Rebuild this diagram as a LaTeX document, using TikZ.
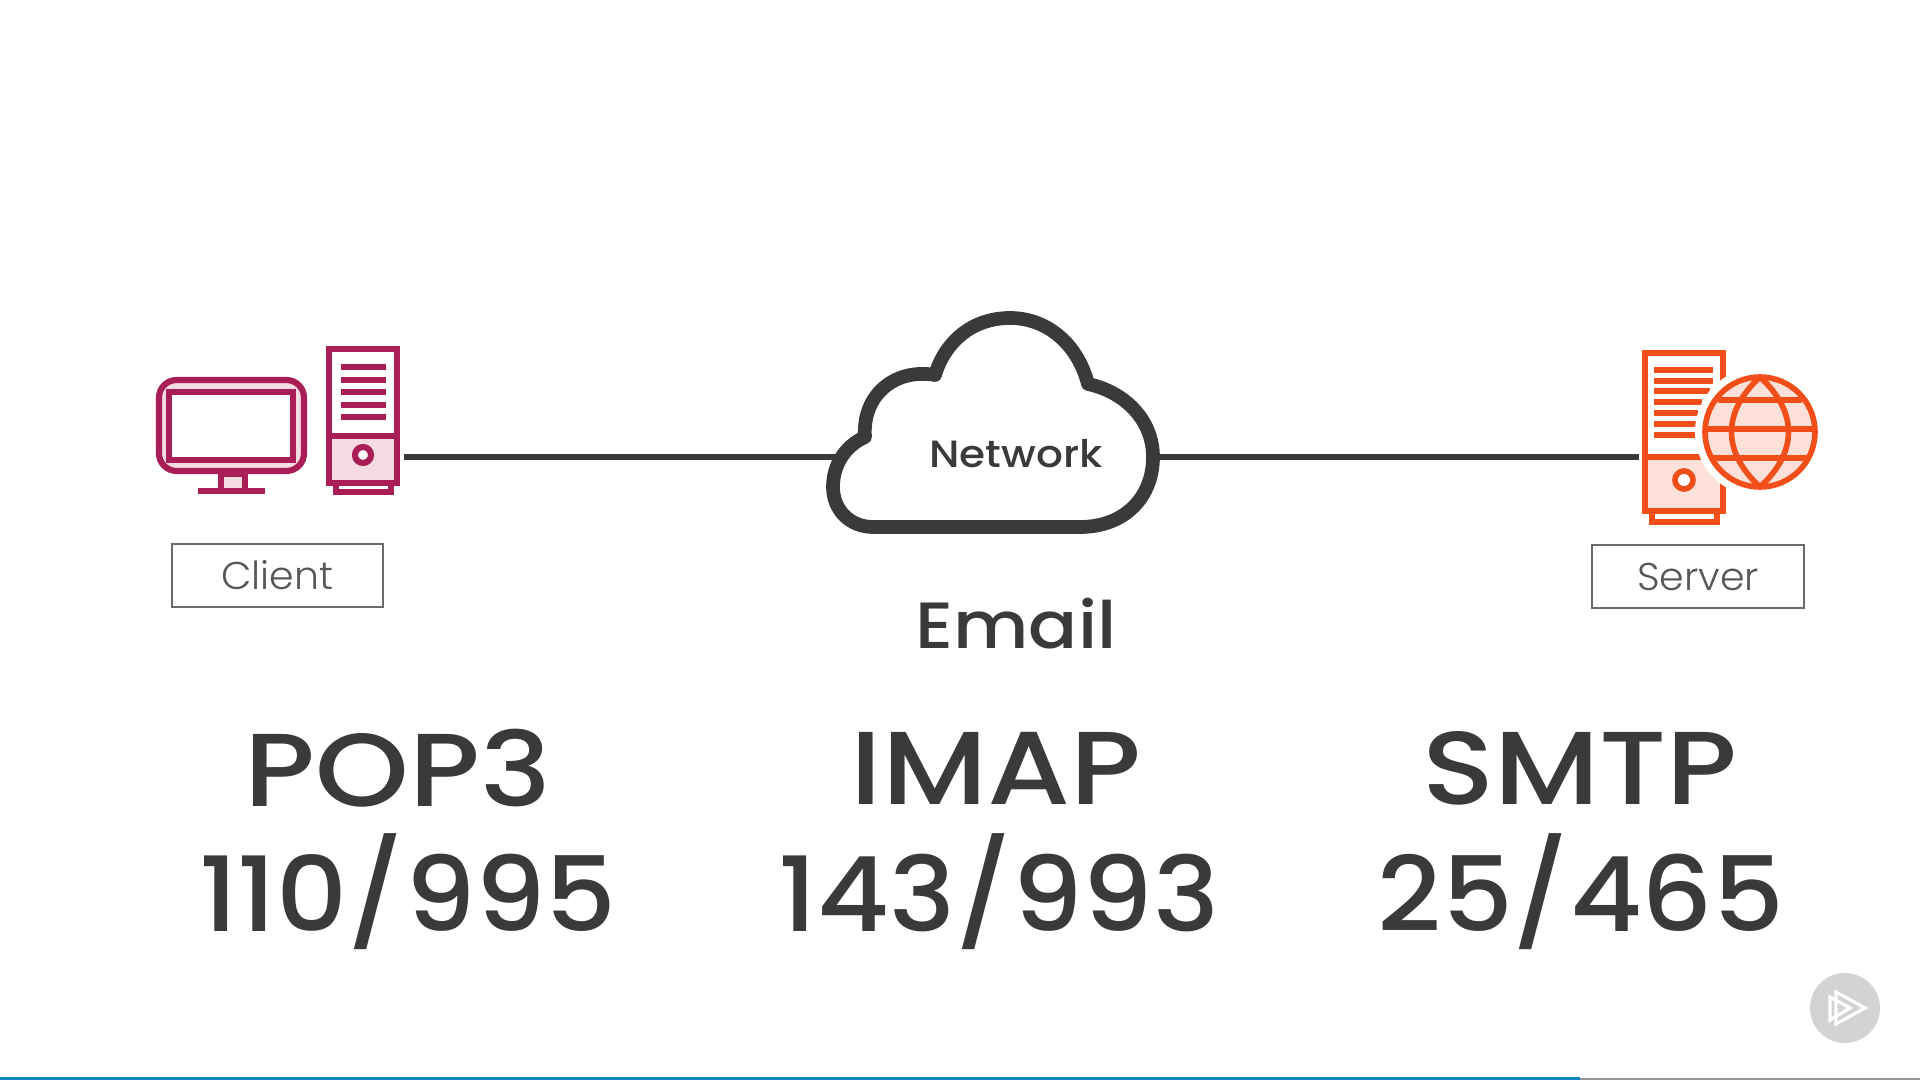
\documentclass[tikz,border=0pt]{standalone}
\usepackage{fontspec}
\setmainfont{Poppins}
\newfontfamily\protofont[FakeStretch=1.11]{Poppins Medium}
\newfontfamily\namefont[FakeStretch=1.15]{Poppins Medium}
\newfontfamily\portfont[FakeStretch=1.07]{Poppins Medium}
\newfontfamily\tagfont[FakeStretch=1.02]{Poppins Light}
\usepackage{xcolor}
\usetikzlibrary{positioning}
\definecolor{inkgray}{HTML}{3A3A3D}
\definecolor{boxgray}{HTML}{6B6B6E}
\definecolor{berry}{HTML}{A91E56}
\definecolor{berrylight}{HTML}{F6DAE4}
\definecolor{flame}{HTML}{F24E1A}
\definecolor{flamelight}{HTML}{FDE0D8}
\definecolor{badge}{HTML}{D3D3D5}
\definecolor{barblue}{HTML}{0A84C1}
\begin{document}
\begin{tikzpicture}[
  x=0.01cm, y=-0.01cm,
  tag/.style={draw=boxgray, line width=0.55pt, minimum width=0.6cm*3.52, minimum height=0.63cm, inner sep=0pt, font=\tagfont\fontsize{11}{13}\selectfont, text=inkgray!85},
  proto/.style={font=\namefont\fontsize{29.5}{34}\selectfont, text=inkgray, inner sep=0pt},
  portnum/.style={font=\portfont\fontsize{29.5}{34}\selectfont, text=inkgray, inner sep=0pt},
  wire/.style={draw=inkgray, line width=1.6pt},
  pcline/.style={draw=berry, line width=1.75pt},
  srvline/.style={draw=flame, line width=1.6pt}
]
\useasboundingbox (0,0) rectangle (1920,1080);

\draw[pcline, fill=berrylight, rounded corners=5pt] (159,380) rectangle (304,471);
\draw[pcline, fill=white] (169,392) rectangle (293,460);
\draw[pcline, fill=berrylight] (221,474) rectangle (245,491);
\draw[pcline, line width=1.9pt] (198,491) -- (265,491);
\draw[pcline, fill=berrylight] (329,436) rectangle (397,483);
\draw[pcline] (329,349) rectangle (397,483);
\draw[pcline] (329,436) -- (397,436);
\foreach \ly in {367,380,392,405,417}
  \draw[pcline] (341,\ly) -- (386,\ly);
\draw[pcline, fill=white] (363,455) circle (8);
\draw[pcline] (336,483) rectangle (391,492);

\draw[srvline, fill=flamelight] (1645,457) rectangle (1723,511);
\draw[srvline] (1645,457) -- (1645,353) -- (1723,353) -- (1723,457);
\foreach \ly/\lx in {370/1713,381/1713,391/1710,402/1702,413/1698,424/1696,435/1696}
  \draw[srvline] (1654,\ly) -- (\lx,\ly);
\draw[srvline] (1645,457) -- (1700,457);
\draw[srvline, fill=white] (1684,480) circle (9);
\draw[srvline] (1652,511) rectangle (1717,522);
\fill[white] (1760,432) circle (65);
\draw[srvline, fill=flamelight] (1760,432) circle (55);
\draw[srvline] (1760,377) .. controls (1722,412) and (1722,452) .. (1760,487);
\draw[srvline] (1760,377) .. controls (1798,412) and (1798,452) .. (1760,487);
\draw[srvline] (1718,400) -- (1802,400);
\draw[srvline] (1705,429) -- (1815,429);
\draw[srvline] (1711,458) -- (1809,458);

\coordinate (clientport) at (404,457);
\coordinate (cloudleft) at (835,457);
\coordinate (cloudright) at (1158,457);
\coordinate (serverport) at (1639,457);
\draw[wire] (clientport) -- (cloudleft);
\draw[wire] (cloudright) -- (serverport);

\draw[draw=inkgray, line width=3.9pt, fill=white, line join=round]
  (873,527) -- (1080,527)
  .. controls (1125,527) and (1153,497) .. (1153,457)
  .. controls (1153,420) and (1125,392) .. (1088,384)
  .. controls (1078,345) and (1048,318) .. (1010,318)
  .. controls (972,318) and (945,342) .. (935,375)
  .. controls (895,368) and (862,395) .. (865,437)
  .. controls (845,446) and (833,465) .. (833,487)
  .. controls (833,510) and (850,527) .. (873,527) -- cycle;

\node[font=\protofont\fontsize{10.8}{13}\selectfont, text=inkgray, inner sep=0pt] (network) at (1016,454) {Network};
\node[tag] (client) at (277.5,575.5) {Client};
\node[tag] (server) at (1698,576.5) {Server};
\node[font=\protofont\fontsize{18.6}{23}\selectfont, text=inkgray, inner sep=0pt] (email) at (1016,624) {Email};

\node[proto] (pop) at (398,768) {POP3};
\node[proto] (imap) at (996,768) {IMAP};
\node[proto] (smtp) at (1580,768) {SMTP};
\node[portnum] (popport) at (408,892) {110/995};
\node[portnum] (imapport) at (999,892) {143/993};
\node[portnum] (smtpport) at (1581,892) {25/465};

\fill[badge] (1845,1008) circle (35);
\draw[white, line width=0.9pt, line join=miter] (1836,992) -- (1865,1008) -- (1836,1024) -- cycle;
\draw[white, line width=0.9pt, line join=miter] (1830,997) -- (1850,1008) -- (1830,1020) -- cycle;

\fill[boxgray!70] (1580,1078) rectangle (1920,1080);
\fill[barblue] (0,1077) rectangle (1580,1080);
\end{tikzpicture}
\end{document}
